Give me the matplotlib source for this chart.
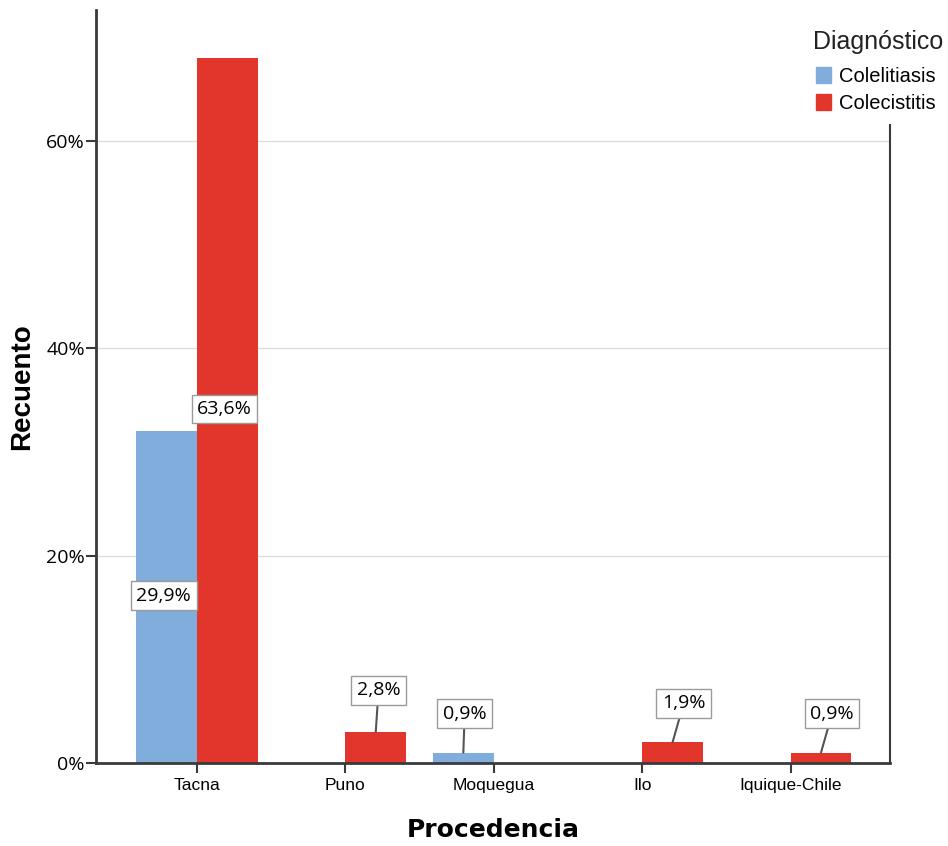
import matplotlib
matplotlib.use("Agg")
import matplotlib.pyplot as plt
from matplotlib.patches import Patch
from matplotlib.ticker import FuncFormatter
import numpy as np

categories = ["Tacna", "Puno", "Moquegua", "Ilo", "Iquique-Chile"]
colelitiasis = [32, 0, 1, 0, 0]
colecistitis = [68, 3, 0, 2, 1]
total = 107
series_names = ["Colelitiasis", "Colecistitis"]
colors = ["#80ADDB", "#E2352B"]
yticks = [0, 20, 40, 60]

fig = plt.figure(figsize=(9.48, 8.46), dpi=100)
ax = fig.add_axes([96/948, 1-763/846, (890-96)/948, (763-10)/846])

x = np.arange(len(categories))
w = 0.41
spine_c = "#3a3a3a"

ax.set_xlim(-0.68, 4.67)
ax.set_ylim(0, 72.6)
for yv in yticks[1:]:
    ax.axhline(yv, color="#dcdcdc", lw=1, zorder=0)

def label(xc, v):
    txt = f"{v/total*100:.1f}%".replace(".", ",")
    bbox = dict(boxstyle="square,pad=0.28", fc="white", ec="#9a9a9a", lw=1)
    if v > 10:
        ax.annotate(txt, (xc, v/2), xytext=(-2, 1), textcoords="offset points",
                    ha="center", va="center", fontsize=14, family="Open Sans",
                    bbox=bbox, zorder=5)
    else:
        dx = 2 if xc % 1 < 0.5 else 1
        ax.annotate(txt, (xc, v), xytext=(dx + 6 * (v < 3 and xc > 2.5), 30 if v > 2 else 28),
                    textcoords="offset points", ha="center", va="center",
                    fontsize=14, family="Open Sans", bbox=bbox, zorder=5,
                    arrowprops=dict(arrowstyle="-", color="#555555", lw=1.5,
                                    shrinkA=0, shrinkB=0))

for i, (a, b) in enumerate(zip(colelitiasis, colecistitis)):
    if a > 0:
        ax.bar(x[i] - w/2, a, w, color=colors[0], zorder=2)
    if b > 0:
        ax.bar(x[i] + w/2, b, w, color=colors[1], zorder=2)
for i, (a, b) in enumerate(zip(colelitiasis, colecistitis)):
    if a > 0:
        label(x[i] - w/2, a)
    if b > 0:
        label(x[i] + w/2, b)

ax.set_yticks(yticks)
ax.yaxis.set_major_formatter(FuncFormatter(lambda v, p: f"{int(v)}%"))
ax.set_xticks(x)
ax.set_xticklabels(categories, family="Liberation Sans", fontsize=12.5)
for t in ax.get_yticklabels():
    t.set_family("Open Sans")
    t.set_fontsize(14)
ax.tick_params(axis="both", direction="out", length=7, width=1.5, color=spine_c)
ax.tick_params(axis="y", pad=1)
ax.tick_params(axis="x", pad=4)

ax.spines["top"].set_visible(False)
for s in ["left", "bottom", "right"]:
    ax.spines[s].set_color(spine_c)
    ax.spines[s].set_linewidth(2)
ax.spines["right"].set_bounds(0, 61.5)
ax.spines["right"].set_linewidth(1.5)

ax.set_ylabel("Recuento", fontsize=20, fontweight="bold", family="Liberation Sans", labelpad=8)
ax.set_xlabel("Procedencia", fontsize=18, fontweight="bold", family="DejaVu Sans", labelpad=18)

fig.text(813/948, 1-42/846, "Diagnóstico", fontsize=18, family="Liberation Sans",
         ha="left", va="center", color="#222222")
handles = [Patch(color=c, label=n) for c, n in zip(colors, series_names)]
leg = fig.legend(handles=handles, loc="upper left", bbox_to_anchor=(816/948, 1-67/846),
                 frameon=False, prop=dict(family="Liberation Sans", size=14.5),
                 handlelength=0.75, handleheight=0.8, handletextpad=0.4,
                 labelspacing=0.4, borderaxespad=0, borderpad=0)

fig.savefig("out.png", dpi=100, facecolor="white")
